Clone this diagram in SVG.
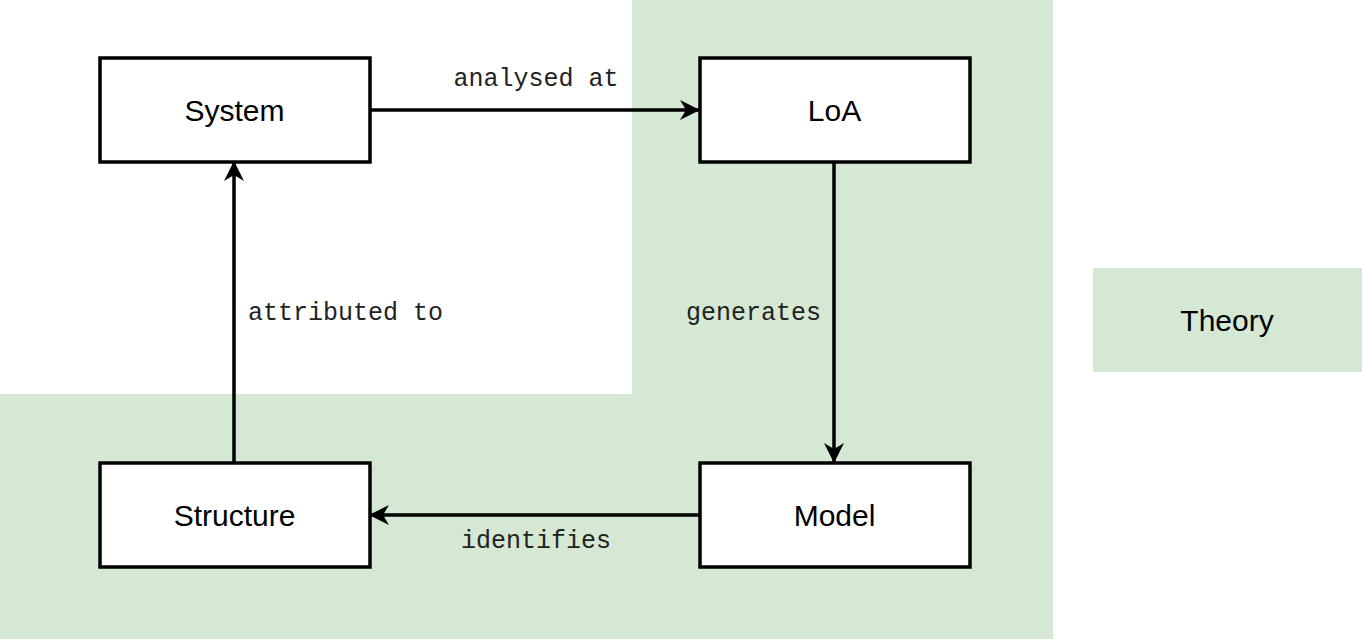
<svg xmlns="http://www.w3.org/2000/svg" width="1362" height="639" viewBox="0 0 1362 639">
<defs>
<marker id="arr" viewBox="0 0 20 20" refX="19" refY="10" markerWidth="20" markerHeight="20" markerUnits="userSpaceOnUse" orient="auto">
<path d="M0,0 L20,10 L0,20 L6,10 Z" fill="#000"/>
</marker>
<style>
.node rect{fill:#fff;stroke:#000;stroke-width:3.5}
.nl{font-family:"Liberation Sans",Arial,sans-serif;font-size:30px;fill:#000;text-anchor:middle;dominant-baseline:central}
.el{font-family:"Liberation Mono","Courier New",monospace;font-size:25px;fill:#222}
.conn path{fill:none;stroke:#000;stroke-width:3.5;marker-end:url(#arr)}
</style>
</defs>
<rect width="1362" height="639" fill="#fff"/>
<g id="theory-region">
<path d="M632,0 H1053 V639 H0 V394 H632 Z" fill="#d5e8d4"/>
</g>
<g id="legend">
<rect x="1093" y="268" width="269" height="104" fill="#d5e8d4"/>
<text class="nl" x="1227" y="320">Theory</text>
</g>
<g class="conn" id="connectors">
<path d="M370,110 H699"/>
<path d="M834,162 V462"/>
<path d="M699,515 H370"/>
<path d="M234,462 V162"/>
<text class="el" x="536" y="86" text-anchor="middle">analysed at</text>
<text class="el" x="821" y="320" text-anchor="end">generates</text>
<text class="el" x="536" y="548" text-anchor="middle">identifies</text>
<text class="el" x="248" y="320">attributed to</text>
</g>
<g id="system" class="node">
<rect x="100" y="58" width="270" height="104"/>
<text class="nl" x="234.5" y="110">System</text>
</g>
<g id="loa" class="node">
<rect x="700" y="58" width="270" height="104"/>
<text class="nl" x="834.5" y="110">LoA</text>
</g>
<g id="structure" class="node">
<rect x="100" y="463" width="270" height="104"/>
<text class="nl" x="234.5" y="515">Structure</text>
</g>
<g id="model" class="node">
<rect x="700" y="463" width="270" height="104"/>
<text class="nl" x="834.5" y="515">Model</text>
</g>
</svg>
